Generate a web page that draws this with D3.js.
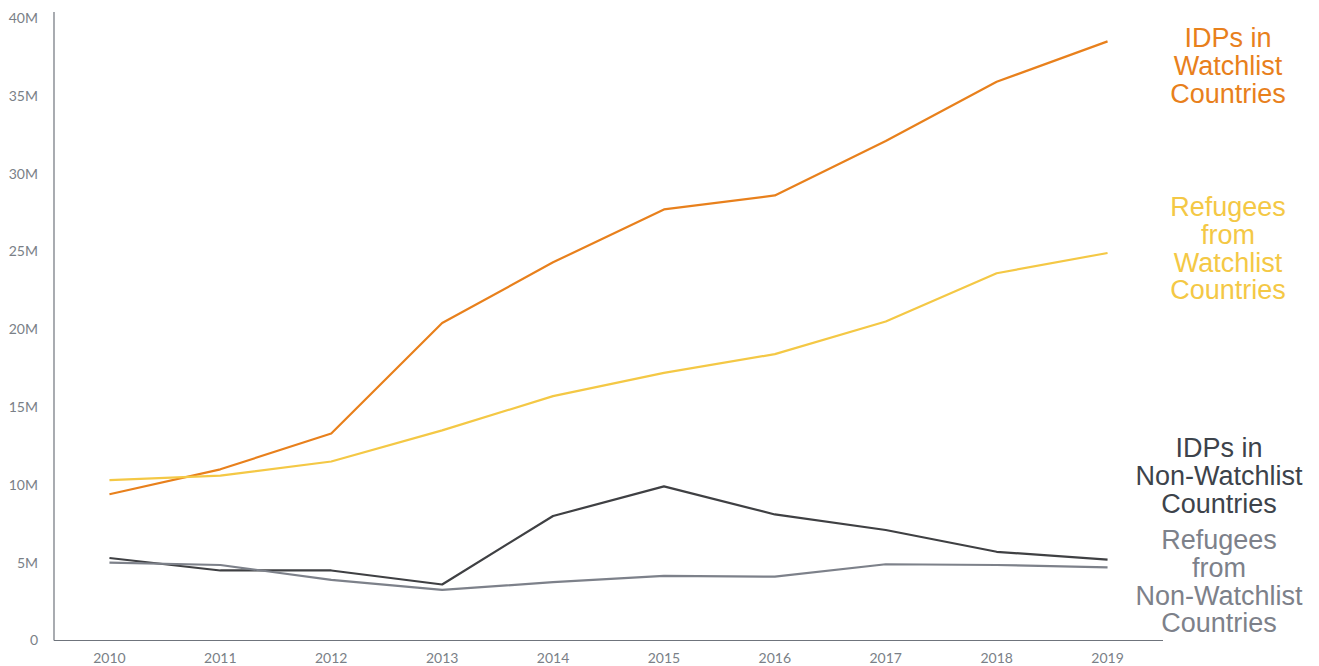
<!DOCTYPE html>
<html><head><meta charset="utf-8">
<script src="https://cdn.jsdelivr.net/npm/d3@7"></script>
<style>body{margin:0;background:#fff;}svg{display:block;}</style>
</head><body>
<svg id="c" width="1319" height="666"></svg>
<script>
const years = [2010,2011,2012,2013,2014,2015,2016,2017,2018,2019];
const idpsWatchlist = [9.4,11.0,13.3,20.4,24.3,27.7,28.6,32.1,35.9,38.5];
const refugeesWatchlist = [10.3,10.6,11.5,13.5,15.7,17.2,18.4,20.5,23.6,24.9];
const idpsNonWatchlist = [5.3,4.5,4.5,3.6,8.0,9.9,8.1,7.1,5.7,5.2];
const refugeesNonWatchlist = [5.0,4.85,3.9,3.25,3.75,4.15,4.1,4.9,4.85,4.7];
const yTicks = [0,5,10,15,20,25,30,35,40];
const tickLabels = ["0","5M","10M","15M","20M","25M","30M","35M","40M"];
const seriesNames = [
  ["IDPs in","Watchlist","Countries"],
  ["Refugees","from","Watchlist","Countries"],
  ["IDPs in","Non-Watchlist","Countries"],
  ["Refugees","from","Non-Watchlist","Countries"]
];

const series = [
  {values: idpsWatchlist, color:"#E8801C", tcolor:"#E8801C", lines: seriesNames[0], lx:1228, ly:38},
  {values: refugeesWatchlist, color:"#F4C845", tcolor:"#F4C845", lines: seriesNames[1], lx:1228, ly:207},
  {values: idpsNonWatchlist, color:"#3F4043", tcolor:"#3D434B", lines: seriesNames[2], lx:1219, ly:448},
  {values: refugeesNonWatchlist, color:"#7D818A", tcolor:"#7D818A", lines: seriesNames[3], lx:1219, ly:540}
];

const svg = d3.select("#c");
const mLeft = 54, mRight = 1163, mTop = 12, mBottom = 640.5;
const x = d3.scalePoint().domain(years).range([mLeft, mRight]).padding(0.5);
const y = d3.scaleLinear().domain([0,40]).range([mBottom, 18]);

const axisColor = "#6f747c";
svg.append("line").attr("x1",mLeft).attr("x2",mLeft).attr("y1",mTop).attr("y2",mBottom)
  .attr("stroke",axisColor).attr("stroke-width",1.2);
svg.append("line").attr("x1",mLeft).attr("x2",mRight).attr("y1",mBottom).attr("y2",mBottom)
  .attr("stroke",axisColor).attr("stroke-width",1.2);

svg.selectAll(".yt").data(yTicks).join("text")
  .attr("x", 38).attr("y", d=>y(d)).attr("dy","0.35em")
  .attr("text-anchor","end")
  .attr("font-family","Lato, sans-serif").attr("font-size",14).attr("fill","#7a7f87")
  .text((d,i)=>tickLabels[i]);

svg.selectAll(".xt").data(years).join("text")
  .attr("x", d=>x(d)).attr("y", 663).attr("text-anchor","middle")
  .attr("font-family","Lato, sans-serif").attr("font-size",14).attr("fill","#7a7f87")
  .text(d=>d);

const line = d3.line().x((d,i)=>x(years[i])).y(d=>y(d));

series.forEach(s=>{
  svg.append("path").datum(s.values).attr("d",line)
    .attr("fill","none").attr("stroke",s.color).attr("stroke-width",2.2)
    .attr("stroke-linejoin","round");
  const t = svg.append("text")
    .attr("font-family","'Liberation Sans', Arial, sans-serif").attr("font-size",27)
    .attr("fill",s.tcolor).attr("text-anchor","middle");
  s.lines.forEach((l,i)=>{
    t.append("tspan").attr("x",s.lx).attr("y",s.ly+i*27.6).attr("dy","0.35em").text(l);
  });
});
</script>
</body></html>
